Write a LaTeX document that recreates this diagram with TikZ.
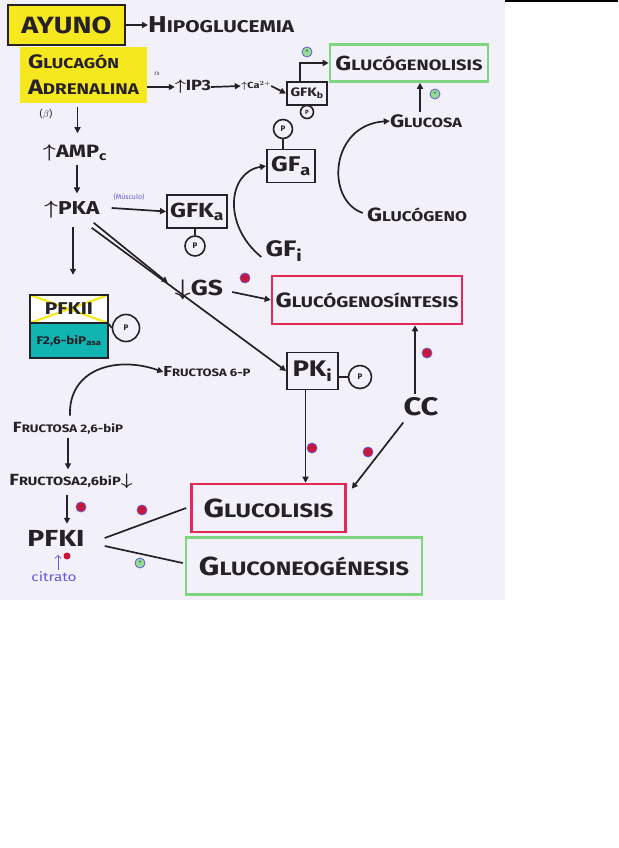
\documentclass[tikz,border=0pt]{standalone}
\usepackage{fontspec}
\setmainfont{Fira Sans}
\usetikzlibrary{arrows.meta,calc}
\definecolor{paper}{RGB}{242,240,248}
\definecolor{hlyellow}{RGB}{246,232,30}
\definecolor{redbox}{RGB}{228,40,90}
\definecolor{greenbox}{RGB}{128,214,128}
\definecolor{tealbox}{RGB}{16,180,176}
\definecolor{pen}{RGB}{38,32,40}
\definecolor{bluepen}{RGB}{100,90,215}
\definecolor{dotred}{RGB}{205,22,55}
\newcommand\fsc[2]{#1\scalebox{0.74}{#2}}
\newcommand\fs[1]{\fontsize{#1}{#1}\selectfont}
\newcommand\hw[2]{\resizebox{#1pt}{!}{\scalebox{1}[0.82]{#2}}}
\begin{document}
\begin{tikzpicture}[x=1pt,y=-1pt,
  every node/.style={text=pen, inner sep=0pt, font=\fs{20}\bfseries\boldmath},
  arr/.style={draw=pen, line width=1.7pt, -{Triangle[length=6pt,width=6pt]}},
  ln/.style={draw=pen, line width=1.7pt},
  pbox/.style={draw=pen, line width=1.9pt},
  pcirc/.style={circle, draw=pen, line width=1.6pt, font=\fs{8}\bfseries},
  minusdot/.style={circle, fill=dotred, draw=bluepen, line width=0.8pt, minimum size=10pt, text=black!70, font=\fs{7}},
  plusdot/.style={circle, fill=greenbox!85, draw=bluepen, line width=0.8pt, minimum size=10pt, text=black!70, font=\fs{7}},
  redframe/.style={draw=redbox, line width=2.6pt},
  greenframe/.style={draw=greenbox, line width=2.6pt},
]
\useasboundingbox (0,0) rectangle (618,848);
\fill[white] (0,0) rectangle (618,848);
\fill[paper] (0,0) rectangle (505,600);
\fill[black] (505,0) rectangle (618,2);

% top
\node[draw=pen, line width=2.5pt, fill=hlyellow, minimum width=117pt, minimum height=40pt] (ayuno) at (66.5,25) {\hw{90}{AYUNO}};
\node[anchor=west] (hipo) at (148,25) {\hw{146}{\fsc{H}{IPOGLUCEMIA}}};
\draw[arr] (ayuno.east) -- (hipo.west);

\node[fill=hlyellow, minimum width=127pt, minimum height=56pt, align=left, text width=111pt] (horm) at (83.5,75) {\hw{91}{\fsc{G}{LUCAGÓN}}\\[6pt]\hw{111}{\fsc{A}{DRENALINA}}};
\node[font=\fs{8}] (alpha) at (157,74) {$\alpha$};
\node (ip3) at (193,87) {\hw{36}{$\uparrow$IP3}};
\node (ca) at (256,86) {\hw{30}{$\uparrow$Ca$^{2+}$}};
\node[pbox, minimum width=40pt, minimum height=23pt] (gfkb) at (307,93.5) {\hw{33}{GFK\textsubscript{b}}};
\node[pcirc, minimum size=13pt, font=\fs{6}\bfseries] (pb) at (307,112) {P};
\draw[arr] ($(horm.east)+(0,12)$) -- (ip3.west);
\draw[arr] (ip3.east) -- (ca.west);
\draw[arr] (ca.east) -- (gfkb.west);

\node[greenframe, minimum width=158pt, minimum height=37pt] (glg) at (409,63) {\hw{147}{\fsc{G}{LUCÓGENOLISIS}}};
\coordinate (gfkbT) at ($(gfkb.north)+(-7,0)$);
\draw[arr] (gfkbT) |- (glg.west);
\node[plusdot] (p1) at (307,52) {+};

\node (glucosa) at (426,121) {\hw{72}{\fsc{G}{LUCOSA}}};
\coordinate (glcN) at ($(glucosa.north)+(-6,-2)$);
\draw[arr] (glcN) -- (glcN |- glg.south);
\node[plusdot] (p2) at (435,94) {+};
\node (glucogeno) at (417,215) {\hw{100}{\fsc{G}{LUCÓGENO}}};
\draw[arr] ($(glucogeno.west)+(-4,-2)$) .. controls (325,200) and (330,125) .. (glucosa.west);

% left column
\node[font=\fs{10}\mdseries] (beta) at (46,114) {($\beta$)};
\node (ampc) at (75,153) {\hw{64}{$\uparrow$AMP\textsubscript{c}}};
\draw[arr] ($(horm.south)+(-6,4)$) -- ($(horm.south)+(-6,30)$);
\node (pka) at (72,210) {\hw{55}{$\uparrow$PKA}};
\draw[arr] ($(ampc.south)+(2,4)$) -- ($(ampc.south)+(2,32)$);
\node[font=\fs{7}\mdseries, text=bluepen] (musc) at (129,197) {(Músculo)};
\node[pbox, minimum width=60pt, minimum height=33pt] (gfka) at (197,211.5) {\hw{54}{GFK\textsubscript{a}}};
\draw[arr] ($(pka.east)+(12,-2)$) -- (gfka.west);
\node[pcirc, minimum size=20pt] (pa) at (195,246) {P};
\draw[ln] (pa.north) -- (pa.north |- gfka.south);

\node[pbox, minimum width=48pt, minimum height=33pt] (gfa) at (291,166) {\hw{40}{GF\textsubscript{a}}};
\node[pcirc, minimum size=19pt] (pfa) at (283,129) {P};
\draw[ln] (pfa.south) -- (pfa.south |- gfa.north);
\node (gfi) at (284,251) {\hw{37}{GF\textsubscript{i}}};
\draw[arr] ($(gfi.west)+(-4,6)$) .. controls (222,225) and (228,172) .. (gfa.west);

\node (gs) at (199,290) {\hw{48}{$\downarrow$GS}};
\node[redframe, minimum width=190pt, minimum height=48pt] (gsyn) at (367,300) {\hw{183}{\fsc{G}{LUCÓGENOSÍNTESIS}}};
\draw[arr] ($(gs.east)+(9,2)$) -- (gsyn.west);
\node[minusdot] (m1) at (245,278) {$-$};

\node[pbox, minimum width=51pt, minimum height=37pt] (pki) at (312.5,371) {\hw{40}{PK\textsubscript{i}}};
\node[pcirc, minimum size=23pt] (ppk) at (360,377) {P};
\draw[ln] (pki.east |- ppk.west) -- (ppk.west);

\draw[arr] ($(pka.south east)+(-6,4)$) -- ($(gs.north west)+(-7,3)$);
\draw[arr] ($(pka.south east)+(-8,9)$) -- (pki.west);

\node (cc) at (421,407) {\hw{35}{CC}};
\coordinate (ccN) at ($(cc.north)+(-6,-4)$);
\draw[arr] (ccN) -- (ccN |- gsyn.south);
\node[minusdot] (m2) at (427,353) {$-$};

\node[redframe, minimum width=154pt, minimum height=48pt] (gluco) at (268.5,508) {\hw{130}{\fsc{G}{LUCOLISIS}}};
\node[greenframe, minimum width=236pt, minimum height=57pt] (gneo) at (304,566) {\hw{210}{\fsc{G}{LUCONEOGÉNESIS}}};
\coordinate (pkiB) at ($(pki.south)+(-7,0)$);
\draw[arr] (pkiB) -- (pkiB |- gluco.north);
\node[minusdot] (m3) at (312,448) {$-$};
\draw[arr] ($(cc.south west)+(0,6)$) -- ($(gluco.north east)+(5,6)$);
\node[minusdot] (m4) at (368,452) {$-$};

% PFK II
\node[pbox, fill=white, minimum width=78pt, minimum height=28pt,
  path picture={\draw[hlyellow, line width=2.2pt] (path picture bounding box.north west) -- (path picture bounding box.south east) (path picture bounding box.south west) -- (path picture bounding box.north east);}] (pfkii) at (69,309) {\hw{48}{PFKII}};
\node[pbox, fill=tealbox, minimum width=78pt, minimum height=35pt] (f26) at (69,340.5) {\hw{65}{F2,6-biP\textsubscript{asa}}};
\draw[arr] ($(pka.south)+(1,8)$) -- ($(pka.south)+(1,56)$);
\node[pcirc, minimum size=27pt] (ppfk) at (126,328) {P};
\draw[ln] (pfkii.south east) -- (ppfk.west);

\node (f6p) at (207,372) {\hw{87}{\fsc{F}{RUCTOSA 6-P}}};
\node (fbp) at (68,428) {\hw{110}{\fsc{F}{RUCTOSA 2,6-biP}}};
\draw[arr] ($(fbp.north)+(2,-6)$) .. controls (68,370) and (115,355) .. (f6p.west);
\node (fbp2) at (71,481) {\hw{123}{\fsc{F}{RUCTOSA2,6biP}$\downarrow$}};
\draw[arr] ($(fbp.south)+(0,4)$) -- ($(fbp2.north)+(-3,-4)$);
\node (pfki) at (56,538) {\hw{57}{PFKI}};
\draw[arr, line width=2.3pt] ($(fbp2.south)+(-4,6)$) -- ($(pfki.north)+(11,-6)$);
\node[minusdot] (m5) at (81,507) {$-$};
\node[minusdot] (m6) at (142,510) {$-$};
\draw[ln] ($(pfki.east)+(20,0)$) -- ($(gluco.west)+(-4,0)$);
\draw[ln] ($(pfki.east)+(20,8)$) -- ($(gneo.west)+(-2,-3)$);
\node[plusdot] (p3) at (140,563) {+};
\node[font=\fs{10}\mdseries, text=bluepen] (citr) at (54,577) {\hw{45}{citrato}};
\draw[draw=bluepen, line width=0.8pt, -{Straight Barb[length=3pt]}] ($(citr.north)+(4,-2)$) -- ($(citr.north)+(4,-17)$);
\node[circle, fill=dotred, minimum size=7pt] (m7) at (67,556) {};
\end{tikzpicture}
\end{document}
